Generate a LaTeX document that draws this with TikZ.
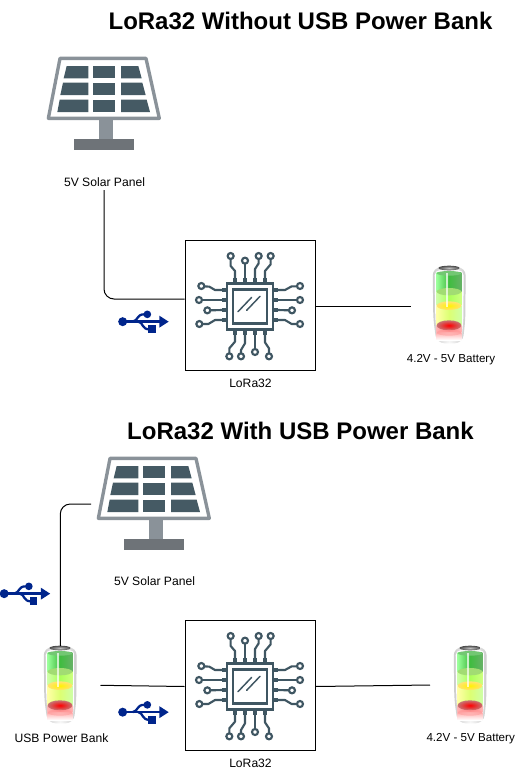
\documentclass[tikz,border=0pt]{standalone}
\usepackage{fontspec}
\setmainfont{Liberation Sans}
\definecolor{cellc}{HTML}{455A64}
\definecolor{framec}{HTML}{8A9299}
\definecolor{basec}{HTML}{6E7378}
\definecolor{chipc}{HTML}{3F5662}
\definecolor{usbc}{HTML}{00258C}
\tikzset{
  x=0.75pt,y=-0.75pt,
  title/.style={font=\bfseries\fontsize{18pt}{20pt}\selectfont,inner sep=0pt,anchor=center},
  lab/.style={font=\fontsize{9.1pt}{11pt}\selectfont,inner sep=0pt,anchor=center},
  batlab/.style={font=\fontsize{8.7pt}{11pt}\selectfont,inner sep=0pt,anchor=center},
  chipbox/.style={draw=black,line width=0.75pt,minimum size=97.5pt,inner sep=0pt,fill=white},
  wire/.style={draw=black,line width=0.75pt},
  lead/.style={draw=chipc,line width=1.6pt,line join=round},
  pad/.style={fill=chipc},
}
\tikzset{
 solar/.pic={
  \begin{scope}[x=0.25pt,y=-0.25pt]
  \fill[framec] (177,240) rectangle (218,298);
  \fill[basec] (103,298) rectangle (281,330);
  \draw[framec,line width=2.5pt,line join=round] (60,55)--(318,55)--(358,235)--(25,235)--cycle;
  \fill[cellc] (80,78)--(145,78)--(145,115)--(71,115)--cycle;
  \fill[cellc] (158,78) rectangle (226,115);
  \fill[cellc] (243,78)--(295,78)--(305,115)--(243,115)--cycle;
  \fill[cellc] (69,128)--(145,128)--(145,165)--(61,165)--cycle;
  \fill[cellc] (158,128) rectangle (226,165);
  \fill[cellc] (243,128)--(307,128)--(317,165)--(243,165)--cycle;
  \fill[cellc] (59,179)--(145,179)--(145,216)--(52,216)--cycle;
  \fill[cellc] (158,179) rectangle (226,216);
  \fill[cellc] (243,179)--(320,179)--(330,216)--(243,216)--cycle;
  \end{scope}
 },
 chipicon/.pic={
  \begin{scope}[x=0.25pt,y=-0.25pt]
  \draw[chipc,line width=1.9pt] (141,146) rectangle (279,284);
  \draw[chipc,line width=1.9pt] (159,163) rectangle (261,265);
  \draw[chipc,line width=1.1pt,line cap=round] (174,230)--(215,187);
  \draw[chipc,line width=1.1pt,line cap=round] (200,226)--(240,184);
  \foreach \p in {165,195,225,255}{
    \fill[pad] (\p-7,130) rectangle (\p+7,145);
    \fill[pad] (\p-7,285) rectangle (\p+7,299);
    \fill[pad] (126,\p-7) rectangle (140,\p+7);
    \fill[pad] (280,\p-7) rectangle (294,\p+7);
  }
  \draw[lead] (165,131)--(165,108)--(152,93)--(152,71);
  \draw[lead] (195,131)--(195,85);
  \draw[lead] (225,131)--(225,102)--(236,85)--(236,71);
  \draw[lead] (255,131)--(255,108)--(272,88)--(272,71);
  \draw[lead] (127,165)--(105,165)--(88,155)--(72,154);
  \draw[lead] (127,195)--(65,195);
  \draw[lead] (127,225)--(90,226);
  \draw[lead] (127,255)--(105,255)--(85,267)--(66,267);
  \draw[lead] (293,165)--(315,165)--(335,154)--(352,154);
  \draw[lead] (293,195)--(352,195);
  \draw[lead] (293,225)--(328,226);
  \draw[lead] (293,255)--(315,255)--(335,267)--(352,267);
  \draw[lead] (165,298)--(165,320)--(148,340)--(148,356);
  \draw[lead] (195,298)--(195,325)--(183,345)--(183,356);
  \draw[lead] (225,298)--(225,343);
  \draw[lead] (255,298)--(255,322)--(267,340)--(267,356);
  \foreach \a/\b in {152/63,195/77,236/63,272/63,64/153,57/195,82/226,58/267,360/153,360/195,336/226,360/267,148/364,183/364,225/351,267/364}
    \draw[chipc,line width=1.6pt,fill=white] (\a,\b) circle[radius=9];
  \end{scope}
 },
 usbicon/.pic={
  \begin{scope}[x=0.25pt,y=-0.25pt]
  \fill[usbc] (38,50) circle[radius=13.5];
  \draw[usbc,line width=1.8pt] (38,50)--(155,50);
  \fill[usbc] (148,32)--(176,50)--(148,68)--cycle;
  \draw[usbc,line width=1.7pt] (68,50) .. controls (85,47) and (80,28) .. (102,28);
  \fill[usbc] (112,28) circle[radius=11.5];
  \draw[usbc,line width=1.7pt] (85,50) .. controls (100,52) and (95,73) .. (118,73);
  \fill[usbc] (114,61) rectangle (137,84);
  \end{scope}
 },
 battery/.pic={
  \begin{scope}[x=0.25pt,y=-0.25pt]
  % glass body
  \shade[left color=black!20,right color=black!20,middle color=black!3,rounded corners=6pt]
     (38,22)--(137,22)--(136,180)--(128,250)--(50,250)--(40,180)--cycle;
  \shade[left color=white,right color=white,middle color=black!6,rounded corners=4pt] (44,30)--(131,30)--(130,180)--(124,243)--(54,243)--(46,180)--cycle;
  % green
  \shade[left color=green!40!white,right color=green!50!black!60!white,middle color=green!65!black!75!white] (50,38) rectangle (124,98);
  \fill[green!60!black!55!white] (87,40) ellipse[x radius=37,y radius=7];
  % olive band
  \shade[left color=yellow!45!green!35!white,right color=yellow!60!green!50!white,middle color=yellow!50!green!65!white] (50,95) rectangle (124,137);
  \fill[green!55!yellow!75!black!55!white] (87,95) ellipse[x radius=37,y radius=11];
  % yellow band
  \shade[left color=yellow!35!white,right color=yellow!45!green!35!white,middle color=yellow!75!green!55!white] (50,137) rectangle (124,195);
  \shade[inner color=yellow!90!orange,outer color=yellow!60!orange!55!white] (87,137) ellipse[x radius=37,y radius=13];
  % red
  \shade[left color=red!30!white,right color=red!30!white,middle color=red!55!white] (50,195) rectangle (124,218);
  \shade[bottom color=white,top color=red!30!white] (50,218) rectangle (124,240);
  \shade[inner color=red,outer color=red!60!black!55!white] (87,196) ellipse[x radius=37,y radius=15];
  \shade[inner color=red!30!white,outer color=red!40!white,opacity=.6] (87,218) ellipse[x radius=37,y radius=9];
  % highlight
  \fill[white,opacity=.7] (78,38) rectangle (83,140);
  % cap
  \shade[inner color=black!25,outer color=black!70] (87,24) ellipse[x radius=32,y radius=7];
  \end{scope}
 }
}
\begin{document}
\begin{tikzpicture}
\useasboundingbox (0,0) rectangle (515,772);
\node[title] (t1) at (300.5,21) {LoRa32 Without USB Power Bank};
\node[title] (t2) at (300.5,431) {LoRa32 With USB Power Bank};
% top part
\pic at (40,40) {solar};
\node[lab] (s1) at (104.5,182) {5V Solar Panel};
\node[chipbox] (c1) at (250,305) {};
\pic at (180,235) {chipicon};
\node[lab] (l1) at (250.5,383) {LoRa32};
\pic at (420,260) {battery};
\node[batlab] (b1) at (451,360) {4.2V - 5V Battery};
\coordinate (b1in) at (411,306);
\draw[wire,rounded corners=7.5pt] (104,190) -- (104,299) -- (c1.west |- 0,299);
\draw[wire] (c1.east |- 0,306) -- (b1in);
\pic at (110,305) {usbicon};
% bottom part
\pic at (90,440) {solar};
\node[lab] (s2) at (154.5,581.5) {5V Solar Panel};
\node[chipbox] (c2) at (250,685) {};
\pic at (180,615) {chipicon};
\node[lab] (l2) at (250.5,763) {LoRa32};
\pic at (441,640) {battery};
\node[batlab] (b2) at (470.7,738.5) {4.2V - 5V Battery};
\pic at (31,640) {battery};
\node[lab] (b3) at (61.5,738.5) {USB Power Bank};
\coordinate (p2) at (91,504);
\coordinate (b3top) at (60.3,646);
\coordinate (b3r) at (100.5,685.3);
\coordinate (b2l) at (430,685);
\draw[wire,rounded corners=7.5pt] (b3top) -- (60.3,504) -- (p2);
\draw[wire] (b3r) -- (c2.west |- 0,686.5);
\draw[wire] (c2.east |- 0,686.5) -- (b2l);
\pic at (110,695.5) {usbicon};
\pic at (-8.5,577) {usbicon};
\end{tikzpicture}
\end{document}
